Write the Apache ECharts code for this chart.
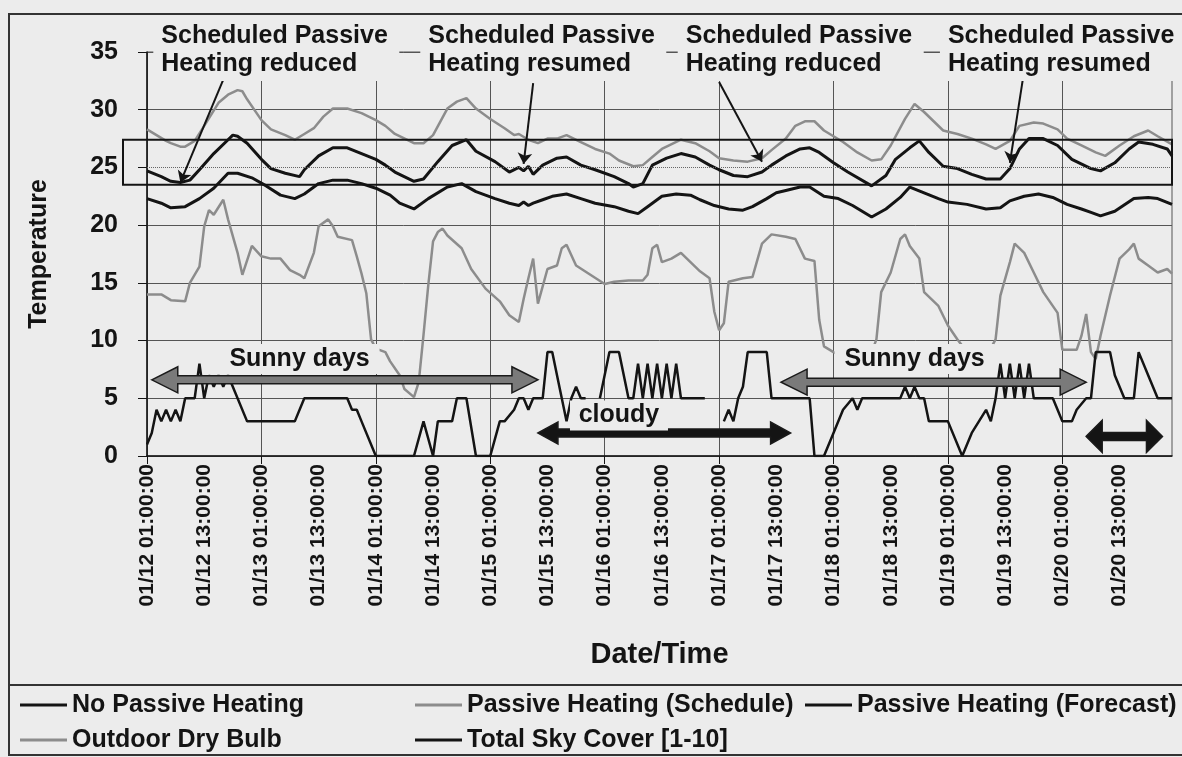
<!DOCTYPE html>
<html>
<head>
<meta charset="utf-8">
<title>Passive heating temperatures</title>
<script src="https://cdn.jsdelivr.net/npm/echarts@6/dist/echarts.min.js"></script>
<style>
  html, body { margin: 0; padding: 0; background: #ececec; }
  #chart { width: 1182px; height: 757px; }
</style>
</head>
<body>
<div id="chart"></div>
<script>
// hourly categories from 01/12 01:00:00 to 01/21 00:00:00
const startDay = 12
const hourCount = 216
const hours = []
for (let i = 0; i < hourCount; i++) {
  const t = i + 1
  const d = startDay + Math.floor(t / 24)
  const hh = t % 24
  hours.push('01/' + d + ' ' + String(hh).padStart(2, '0') + ':00:00')
}

// [hour index, value]
const noPassive = [
  [0,22.3],[3,21.9],[5,21.5],[8,21.6],[11,22.3],[14,23.2],[17,24.5],[19,24.5],[22,24.1],[25,23.4],
  [28,22.6],[31,22.3],[33,22.7],[36,23.6],[39,23.9],[42,23.9],[45,23.6],[48,23.2],[51,22.6],[53,21.9],
  [56,21.4],[59,22.3],[63,23.3],[66,23.6],[69,22.9],[73,22.3],[76,21.9],[78,21.7],[79,22.0],[80,21.7],
  [81,21.9],[83,22.2],[85,22.5],[88,22.7],[91,22.3],[94,21.9],[98,21.6],[101,21.2],[103,21.0],[105,21.6],
  [108,22.5],[111,22.7],[114,22.6],[116,22.2],[119,21.7],[122,21.4],[125,21.3],[127,21.6],[130,22.3],[132,22.8],
  [134,23.0],[137,23.3],[139,23.3],[142,22.5],[145,22.3],[148,21.7],[152,20.7],[155,21.4],[158,22.4],[160,23.3],
  [163,22.8],[166,22.3],[168,22.0],[172,21.8],[176,21.4],[179,21.5],[181,22.1],[184,22.5],[187,22.7],[190,22.4],
  [193,21.8],[196,21.4],[198,21.1],[200,20.8],[203,21.2],[207,22.3],[210,22.4],[212,22.3],[215,21.8]
]

const passiveSchedule = [
  [0,28.3],[2,27.8],[4,27.3],[5,27.1],[7,26.8],[8,26.8],[10,27.3],[12,28.6],[15,30.6],[17,31.3],
  [19,31.7],[20,31.6],[21,30.9],[24,29.1],[26,28.3],[29,27.8],[31,27.4],[33,27.9],[35,28.4],[37,29.4],
  [39,30.1],[42,30.1],[45,29.7],[48,29.1],[50,28.6],[52,27.9],[56,27.1],[58,27.1],[60,27.8],[63,30.1],
  [65,30.7],[67,31.0],[69,30.1],[72,29.2],[75,28.4],[77,27.8],[78,27.9],[80,27.4],[82,27.1],[84,27.5],
  [86,27.5],[88,27.8],[91,27.2],[94,26.6],[97,26.2],[99,25.6],[102,25.1],[104,25.2],[106,25.9],[108,26.6],
  [112,27.4],[115,27.1],[118,26.4],[120,25.8],[123,25.6],[126,25.5],[129,25.8],[131,26.5],[134,27.5],[136,28.6],
  [138,29.0],[140,29.0],[142,28.2],[144,27.7],[146,27.2],[149,26.3],[152,25.6],[154,25.7],[156,26.9],[159,29.2],
  [161,30.5],[163,29.8],[165,29.0],[167,28.2],[170,27.9],[173,27.5],[176,27.0],[178,26.6],[181,27.3],[183,28.6],
  [186,28.9],[188,28.8],[191,28.3],[193,27.5],[196,26.9],[199,26.3],[201,26.0],[204,26.9],[207,27.7],[210,28.2],
  [212,27.7],[215,27.0]
]

const passiveForecast = [
  [0,24.7],[3,24.2],[5,23.8],[7,23.7],[9,23.9],[11,24.8],[14,26.2],[17,27.4],[18,27.8],[19,27.7],
  [21,27.1],[24,25.7],[26,24.9],[29,24.5],[32,24.2],[33,24.8],[36,26.0],[39,26.7],[42,26.7],[45,26.2],
  [48,25.7],[50,25.2],[52,24.6],[56,23.8],[58,24.0],[61,25.5],[64,26.9],[67,27.4],[69,26.4],[73,25.5],
  [76,24.6],[78,25.0],[79,24.7],[80,25.1],[81,24.4],[83,25.2],[86,25.8],[88,25.9],[91,25.2],[94,24.8],
  [98,24.2],[101,23.6],[102,23.3],[104,23.6],[106,25.2],[109,25.8],[112,26.2],[115,25.9],[118,25.2],[120,24.8],
  [123,24.3],[126,24.2],[129,24.6],[131,25.2],[134,26.0],[137,26.6],[139,26.7],[141,26.3],[144,25.4],[147,24.6],
  [152,23.4],[155,24.3],[157,25.7],[160,26.7],[162,27.3],[164,26.3],[167,25.1],[170,24.9],[173,24.4],[176,24.0],
  [179,24.0],[181,24.9],[183,26.6],[185,27.5],[188,27.5],[191,26.9],[194,25.7],[198,24.9],[200,24.7],[203,25.4],
  [206,26.6],[208,27.2],[211,27.0],[214,26.6],[215,26.0]
]

const outdoorDryBulb = [
  [0,14.0],[3,14.0],[5,13.5],[8,13.4],[9,15.0],[11,16.4],[12,19.9],[13,21.3],[14,20.9],[16,22.2],
  [17,20.5],[19,17.6],[20,15.7],[22,18.2],[24,17.3],[26,17.1],[28,17.1],[30,16.1],[32,15.7],[33,15.4],
  [35,17.6],[36,19.9],[38,20.5],[39,19.9],[40,19.0],[43,18.7],[44,17.3],[45,15.8],[46,14.1],[47,10.1],
  [48,9.3],[50,9.0],[51,8.2],[53,7.0],[54,5.8],[56,5.1],[57,6.4],[58,10.5],[59,14.8],[60,18.6],
  [61,19.4],[62,19.7],[63,19.1],[66,18.0],[68,16.2],[71,14.5],[74,13.4],[76,12.2],[78,11.6],[79,13.6],
  [80,15.4],[81,17.1],[82,13.2],[84,16.2],[86,16.5],[87,18.0],[88,18.3],[90,16.5],[93,15.7],[96,14.9],
  [98,15.1],[101,15.2],[104,15.2],[105,15.7],[106,18.0],[107,18.3],[108,16.8],[110,17.1],[112,17.6],[114,16.8],
  [116,16.0],[118,15.4],[119,12.5],[120,10.9],[121,11.5],[122,15.1],[125,15.4],[127,15.5],[129,18.4],[131,19.2],
  [134,19.0],[136,18.8],[138,17.1],[140,16.9],[141,11.8],[142,9.5],[144,9.0],[146,8.6],[148,8.4],[150,8.6],
  [152,9.0],[153,10.1],[154,14.2],[156,15.9],[158,18.8],[159,19.2],[160,18.2],[162,17.1],[163,14.2],[166,13.0],
  [168,11.3],[170,10.1],[172,9.0],[174,8.6],[176,8.6],[178,10.1],[179,13.9],[181,16.8],[182,18.4],[184,17.6],
  [186,15.9],[188,14.2],[191,12.4],[192,9.2],[195,9.2],[196,10.4],[197,12.3],[198,9.0],[199,8.4],[200,10.4],
  [202,13.9],[204,17.1],[206,17.9],[207,18.4],[208,17.1],[210,16.5],[212,15.9],[214,16.2],[215,15.8]
]

const totalSkyCover = [
  [0,1],[1,2],[2,4],[3,3],[4,4],[5,3],[6,4],[7,3],[8,5],[10,5],[11,8],[12,5],[13,7],[14,6],[15,7],
  [16,6],[17,7],[18,6],[21,3],[31,3],[33,5],[42,5],[43,4],[44,4],[45,3],[48,0],[56,0],[58,3],[60,0],
  [61,3],[64,3],[65,5],[67,5],[69,0],[72,0],[74,3],[75,3],[77,4],[78,5],[79,5],[80,4],[81,5],[83,5],
  [84,9],[85,9],[86,7],[87,5],[88,3],[89,5],[90,6],[91,5],[92,5],[93,null],[95,5],[97,9],[99,9],[101,5],
  [102,5],[103,8],[104,5],[105,8],[106,5],[107,8],[108,5],[109,8],[110,5],[111,8],[112,5],[117,5],[118,null],
  [121,3],[122,4],[123,3],[124,5],[125,6],[126,9],[130,9],[131,5],[138,5],[139,5],[140,0],[142,0],[144,2],
  [146,4],[148,5],[149,4],[150,5],[158,5],[159,6],[160,5],[161,6],[162,5],[163,5],[164,3],[168,3],[171,0],
  [173,2],[176,4],[177,3],[178,5],[179,8],[180,5],[181,8],[182,5],[183,8],[184,5],[185,8],[186,5],[190,5],
  [191,4],[192,3],[194,3],[195,4],[197,5],[198,5],[199,9],[202,9],[203,7],[205,5],[207,5],[208,9],[210,7],
  [212,5],[215,5]
]

const yTicks = [0, 5, 10, 15, 20, 25, 30, 35]

// annotation text boxes along the top, and where their pointers go
const noteTexts = [
  'Scheduled Passive\nHeating reduced',
  'Scheduled Passive\nHeating resumed',
  'Scheduled Passive\nHeating reduced',
  'Scheduled Passive\nHeating resumed'
]
const noteHours = [3, 59, 113, 168]
const notePointers = [
  [[16, 32.6], [7, 23.7]],
  [[81, 32.3], [79, 25.3]],
  [[120, 32.4], [129, 25.5]],
  [[184, 33.4], [181, 25.4]]
]

// weather spans drawn as double arrows
const spanLabels = ['Sunny days', 'cloudy', 'Sunny days', '']
const spanFrom = [1, 82, 133, 197]
const spanTo = [82, 135, 197, 213]
const spanLevel = [6.6, 2.0, 6.4, 1.7]
const labelHours = [32, 99, 161, 0]
const labelLevel = [8.4, 3.5, 8.4, 0]

const comfortBand = [23.5, 27.4]

const font = '"Liberation Sans", Arial, sans-serif'
const ink = '#141414'
const grey = '#8c8c8c'
const paper = '#ececec'

const chart = echarts.init(document.getElementById('chart'))

function legendAt(name, left, top) {
  return {
    data: [name],
    left: left,
    top: top,
    padding: 0,
    icon: 'rect',
    itemWidth: 47,
    itemHeight: 3,
    selectedMode: false,
    textStyle: { fontFamily: font, fontSize: 25, fontWeight: 'bold', color: ink, lineHeight: 26 }
  }
}

function lineSeries(name, data, color, width, extra) {
  return Object.assign({
    name: name,
    type: 'line',
    data: data,
    showSymbol: false,
    symbol: 'none',
    connectNulls: false,
    lineStyle: { color: color, width: width },
    itemStyle: { color: color }
  }, extra || {})
}

const gridLineColors = yTicks.map(v => v === 25 ? 'rgba(0,0,0,0)' : '#555')

chart.setOption({
  animation: false,
  backgroundColor: paper,
  textStyle: { fontFamily: font },
  grid: { left: 147, right: 10, top: 52, bottom: 301, show: true, borderColor: '#555', borderWidth: 1 },
  legend: [
    legendAt('No Passive Heating', 20, 692),
    legendAt('Passive Heating (Schedule)', 415, 692),
    legendAt('Passive Heating (Forecast)', 805, 692),
    legendAt('Outdoor Dry Bulb', 20, 727),
    legendAt('Total Sky Cover [1-10]', 415, 727)
  ],
  xAxis: {
    type: 'category',
    data: hours,
    boundaryGap: false,
    name: 'Date/Time',
    nameLocation: 'middle',
    nameGap: 184,
    nameTextStyle: { fontFamily: font, fontSize: 29, fontWeight: 'bold', color: ink },
    axisLine: { lineStyle: { color: ink, width: 1.5 } },
    axisTick: { interval: 23, length: 8, lineStyle: { color: ink } },
    axisLabel: { interval: 11, rotate: 90, margin: 8, fontSize: 21, fontWeight: 'bold', color: ink, fontFamily: font },
    splitLine: { show: true, interval: 23, lineStyle: { color: '#555', width: 1 } }
  },
  yAxis: {
    type: 'value',
    min: 0,
    max: 35,
    interval: 5,
    name: 'Temperature',
    nameLocation: 'middle',
    nameGap: 95,
    nameTextStyle: { fontFamily: font, fontSize: 25, fontWeight: 'bold', color: ink },
    axisLine: { show: true, lineStyle: { color: ink, width: 1.5 } },
    axisTick: { show: true, length: 9, lineStyle: { color: ink } },
    axisLabel: { fontSize: 25, fontWeight: 'bold', color: ink, margin: 29, fontFamily: font },
    splitLine: { show: true, lineStyle: { color: gridLineColors, width: 1 } }
  },
  series: [
    lineSeries('No Passive Heating', noPassive, ink, 3, {
      markLine: {
        silent: true,
        symbol: ['none', 'none'],
        label: { show: false },
        lineStyle: { color: '#666', type: 'dotted', width: 1 },
        data: [{ yAxis: 25 }]
      }
    }),
    lineSeries('Passive Heating (Schedule)', passiveSchedule, grey, 2.5),
    lineSeries('Passive Heating (Forecast)', passiveForecast, ink, 3, {
      markLine: {
        silent: true,
        symbol: ['none', 'arrow'],
        symbolSize: 11,
        label: { show: false },
        lineStyle: { color: ink, type: 'solid', width: 2 },
        data: notePointers.map(p => [{ coord: p[0] }, { coord: p[1] }])
      }
    }),
    lineSeries('Outdoor Dry Bulb', outdoorDryBulb, grey, 2.5),
    lineSeries('Total Sky Cover [1-10]', totalSkyCover, ink, 2.5)
  ]
})

// ---- annotations on top of the plot ----
function px(h, v) {
  return chart.convertToPixel({ gridIndex: 0 }, [h, v])
}

function doubleArrow(x1, x2, y, hl, hh, sh) {
  return [
    [x1, y], [x1 + hl, y - hh], [x1 + hl, y - sh], [x2 - hl, y - sh], [x2 - hl, y - hh],
    [x2, y], [x2 - hl, y + hh], [x2 - hl, y + sh], [x1 + hl, y + sh], [x1 + hl, y + hh]
  ]
}

const graphics = []

// outer frame and legend divider
graphics.push({
  type: 'rect', z: 50, silent: true,
  shape: { x: 9, y: 14, width: 1200, height: 741 },
  style: { fill: 'none', stroke: '#333', lineWidth: 2 }
})
graphics.push({
  type: 'line', z: 50, silent: true,
  shape: { x1: 9, y1: 685, x2: 1182, y2: 685 },
  style: { stroke: '#333', lineWidth: 2 }
})

// comfort band box
const bandTop = px(0, comfortBand[1])
const bandBottom = px(215, comfortBand[0])
graphics.push({
  type: 'rect', z: 60, silent: true,
  shape: { x: bandTop[0] - 24, y: bandTop[1], width: bandBottom[0] - bandTop[0] + 24, height: bandBottom[1] - bandTop[1] },
  style: { fill: 'none', stroke: ink, lineWidth: 2 }
})

// top notes
noteTexts.forEach((txt, i) => {
  const x = px(noteHours[i], 35)[0]
  graphics.push({
    type: 'rect', z: 90, silent: true,
    shape: { x: x - 8, y: 17, width: 246, height: 64 },
    style: { fill: paper }
  })
  graphics.push({
    type: 'text', z: 91, silent: true,
    style: {
      text: txt, x: x, y: 22,
      font: 'bold 25px ' + font, fill: ink,
      lineHeight: 28, textAlign: 'left', align: 'left',
      textVerticalAlign: 'top', verticalAlign: 'top'
    }
  })
})

// span arrows with labels
spanFrom.forEach((from, i) => {
  const a = px(from, spanLevel[i])
  const b = px(spanTo[i], spanLevel[i])
  const sunny = spanLabels[i] === 'Sunny days'
  const small = spanLabels[i] === ''
  const hl = sunny ? 26 : (small ? 16 : 20)
  const hh = sunny ? 13 : (small ? 16 : 11)
  graphics.push({
    type: 'polygon', z: 80, silent: true,
    shape: { points: doubleArrow(a[0], b[0], a[1], hl, hh, 4) },
    style: { fill: sunny ? '#7a7a7a' : ink, stroke: '#1a1a1a', lineWidth: 1.5 }
  })
  if (spanLabels[i]) {
    const c = px(labelHours[i], labelLevel[i])
    const w = sunny ? 160 : 98
    graphics.push({
      type: 'rect', z: 85, silent: true,
      shape: { x: c[0] - w / 2, y: c[1] - 15, width: w, height: 30 },
      style: { fill: paper }
    })
    graphics.push({
      type: 'text', z: 86, silent: true,
      style: {
        text: spanLabels[i], x: c[0], y: c[1],
        font: 'bold 25px ' + font, fill: ink,
        textAlign: 'center', align: 'center',
        textVerticalAlign: 'middle', verticalAlign: 'middle'
      }
    })
  }
})

chart.setOption({ graphic: graphics })
</script>
</body>
</html>
